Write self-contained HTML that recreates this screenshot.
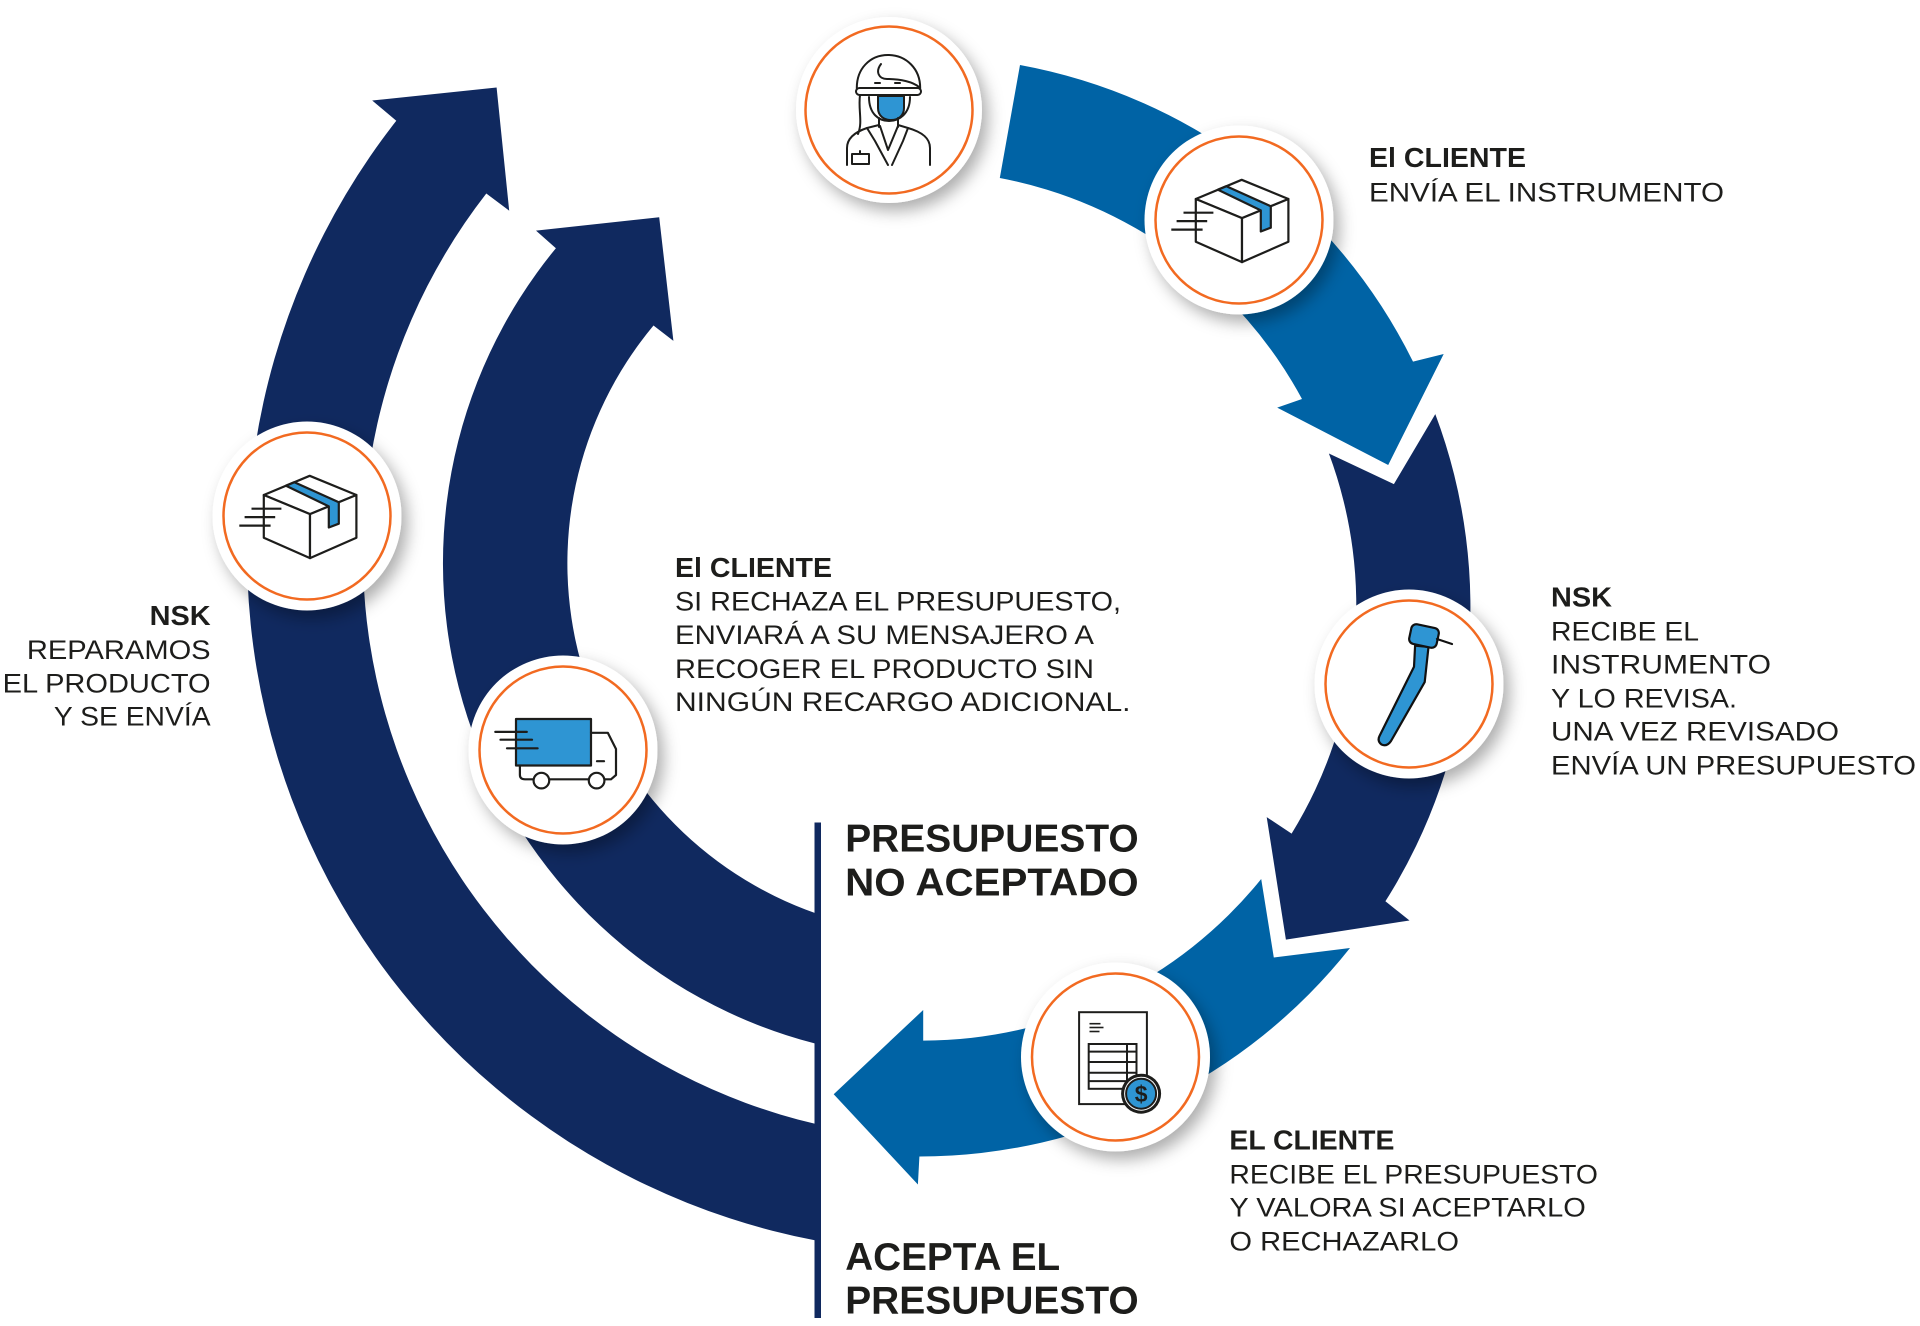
<!DOCTYPE html>
<html><head><meta charset="utf-8"><style>
html,body{margin:0;padding:0;background:#fff;}
svg{display:block;}
text{font-family:"Liberation Sans",Arial,sans-serif;fill:#1d1d1b;}
.b{font-weight:bold;font-size:27.5px;}
.r{font-size:26.5px;}
.h{font-weight:bold;font-size:39px;}
</style></head><body>
<svg width="1920" height="1326" viewBox="0 0 1920 1326" xmlns="http://www.w3.org/2000/svg">
<defs>
<filter id="sh" x="-40%" y="-40%" width="180%" height="180%">
<feDropShadow dx="6" dy="8" stdDeviation="8" flood-color="#000" flood-opacity="0.32"/>
</filter>
</defs>

<!-- left arrows -->
<path fill="#10295f" d="M 816,1240.5 A 700 700 0 0 1 396.3,120.8 L 372.2,100.5 L 496.6,87.5 L 509.2,210.7 L 486.3,193.5 A 586 586 0 0 0 816,1124 Z"/>
<path fill="#10295f" d="M 816,1043.8 A 496 496 0 0 1 555.9,248.2 L 536,230.6 L 659.2,217.2 L 673.4,340.9 L 653.5,325.5 A 371 371 0 0 0 816,913.4 Z"/>

<!-- right ring segments -->
<path fill="#0063a5" d="M 1020,65 A 549 549 0 0 1 1413,361.6 L 1443.7,354 L 1388.2,465 L 1277.2,407.6 L 1302,399 A 435 435 0 0 0 999.8,178 Z"/>
<path fill="#10295f" d="M 1435.3,414.1 L 1393.9,484.1 L 1328.9,453.5 A 435 435 0 0 1 1291.6,833.6 L 1266.7,817.1 L 1285.9,939.6 L 1409.5,920.5 L 1385.4,901.3 A 550 550 0 0 0 1435.3,414.1 Z"/>
<path fill="#0063a5" d="M 1350,948 L 1273.8,957.5 L 1261.2,879 A 435 435 0 0 1 923.2,1040.6 L 923.2,1010 L 833.7,1094.2 L 917.9,1184.5 L 919.4,1156.5 A 550 550 0 0 0 1350,948 Z"/>

<!-- vertical divider -->
<rect x="814.5" y="822.5" width="6.5" height="495.5" fill="#10295f"/>

<!-- circles -->
<g>
<circle cx="889" cy="110" r="93" fill="#fff" filter="url(#sh)"/>
<circle cx="889" cy="110" r="83.5" fill="none" stroke="#f26a21" stroke-width="2.5"/>
<circle cx="1239" cy="220" r="94.5" fill="#fff" filter="url(#sh)"/>
<circle cx="1239" cy="220" r="83.5" fill="none" stroke="#f26a21" stroke-width="2.5"/>
<circle cx="1409" cy="684" r="94.5" fill="#fff" filter="url(#sh)"/>
<circle cx="1409" cy="684" r="83.5" fill="none" stroke="#f26a21" stroke-width="2.5"/>
<circle cx="1115.5" cy="1057" r="94.5" fill="#fff" filter="url(#sh)"/>
<circle cx="1115.5" cy="1057" r="83.5" fill="none" stroke="#f26a21" stroke-width="2.5"/>
<circle cx="563" cy="750" r="94.5" fill="#fff" filter="url(#sh)"/>
<circle cx="563" cy="750" r="83.5" fill="none" stroke="#f26a21" stroke-width="2.5"/>
<circle cx="307" cy="516" r="94.5" fill="#fff" filter="url(#sh)"/>
<circle cx="307" cy="516" r="83.5" fill="none" stroke="#f26a21" stroke-width="2.5"/>
</g>

<!-- person icon -->
<g transform="translate(889,110)" stroke="#1d1d1b" stroke-width="2" fill="none" stroke-linejoin="round" stroke-linecap="round">
<path d="M -32,-18 C -34,-42 -18,-55 -1,-55 C 16,-55 33,-42 31,-18"/>
<path d="M -8,-46 C -14,-38 -10,-31 -2,-31 C 12,-31 24,-28 30,-23"/>
<line x1="-14" y1="-27" x2="-9" y2="-27"/>
<line x1="6" y1="-27" x2="11" y2="-27"/>
<rect x="-33" y="-22" width="65" height="7" rx="3.5" fill="#fff"/>
<path d="M -29,-15 C -31,0 -26,12 -31,24"/>
<path d="M -20,-13 C -20,4 -10,11 0,11 C 10,11 21,4 21,-13"/>
<path d="M -11,-14 L 15,-14 L 15,-2 C 15,6 9,10 2,10 C -5,10 -11,6 -11,-2 Z" fill="#2e95d3"/>
<line x1="-10" y1="8" x2="-10" y2="17"/>
<line x1="9" y1="8" x2="9" y2="17"/>
<path d="M -42,55 L -42,38 C -42,28 -34,22 -22,18 L -10,15"/>
<path d="M 41,55 L 41,38 C 41,28 33,22 19,18 L 9,15"/>
<path d="M -22,18 L -14,31 L -1,55"/>
<path d="M 19,18 L 14,31 L 3,55"/>
<path d="M -9,16 L -1,40 L 9,16"/>
<rect x="-37" y="44" width="17" height="10"/>
<line x1="-29" y1="41" x2="-29" y2="44"/>
</g>

<!-- box icon (top right) -->
<g transform="translate(1239,220)" stroke="#1d1d1b" stroke-width="2.2" stroke-linejoin="round" fill="#fff">
<polygon points="-43.2,-21 2.7,-40.2 49.4,-21 3,-1.9"/>
<polygon points="-43.2,-21 3,-1.9 3,42.1 -43.2,21.8"/>
<polygon points="3,-1.9 49.4,-21 49.4,21.8 3,42.1"/>
<polygon points="-21,-30.3 -12.6,-33.8 31.8,-13.7 31.8,7.7 21.8,11.5 21.8,-9.6" fill="#2e95d3"/>
<line x1="-55.5" y1="-7.3" x2="-25.6" y2="-7.3"/>
<line x1="-62.4" y1="1.1" x2="-31.8" y2="1.1"/>
<line x1="-67.7" y1="9.6" x2="-36.4" y2="9.6"/>
</g>

<!-- box icon (left) -->
<g transform="translate(307,516)" stroke="#1d1d1b" stroke-width="2.2" stroke-linejoin="round" fill="#fff">
<polygon points="-43.2,-21 2.7,-40.2 49.4,-21 3,-1.9"/>
<polygon points="-43.2,-21 3,-1.9 3,42.1 -43.2,21.8"/>
<polygon points="3,-1.9 49.4,-21 49.4,21.8 3,42.1"/>
<polygon points="-21,-30.3 -12.6,-33.8 31.8,-13.7 31.8,7.7 21.8,11.5 21.8,-9.6" fill="#2e95d3"/>
<line x1="-55.5" y1="-7.3" x2="-25.6" y2="-7.3"/>
<line x1="-62.4" y1="1.1" x2="-31.8" y2="1.1"/>
<line x1="-67.7" y1="9.6" x2="-36.4" y2="9.6"/>
</g>

<!-- handpiece icon -->
<g transform="translate(1409,684)" stroke="#111" stroke-width="2.2" stroke-linejoin="round" stroke-linecap="round">
<path d="M 6.1,-38.3 L 19.5,-37.1 L 15.7,-1.9 L -18,57 Q -22,63 -27.5,60.5 Q -32,57 -29.5,52 L 5,-17.2 Z" fill="#2e95d3"/>
<rect x="1" y="-58" width="28" height="20" rx="5" fill="#2e95d3" transform="rotate(12 15 -48)"/>
<line x1="28" y1="-45" x2="43" y2="-40" fill="none"/>
</g>

<!-- invoice icon -->
<g transform="translate(1115.5,1057)" stroke="#1d1d1b" stroke-width="2" fill="#fff">
<rect x="-36.4" y="-44.8" width="67.8" height="91.9"/>
<line x1="-26" y1="-33.3" x2="-15" y2="-33.3" stroke-width="1.6"/>
<line x1="-26" y1="-29.5" x2="-12" y2="-29.5" stroke-width="1.6"/>
<line x1="-26" y1="-25.5" x2="-16" y2="-25.5" stroke-width="1.6"/>
<rect x="-26.8" y="-13" width="47.8" height="44.8"/>
<line x1="-26.8" y1="-5.4" x2="21" y2="-5.4"/>
<line x1="-26.8" y1="5" x2="21" y2="5"/>
<line x1="-26.8" y1="15.7" x2="21" y2="15.7"/>
<line x1="-26.8" y1="24.1" x2="21" y2="24.1"/>
<line x1="11.5" y1="-13" x2="11.5" y2="31.8"/>
<circle cx="25.6" cy="36.7" r="20" fill="#1d1d1b" stroke="none"/>
<circle cx="25.6" cy="36.7" r="17" fill="#fff" stroke="none"/>
<circle cx="25.6" cy="36.7" r="15" fill="#2e95d3" stroke="#1d1d1b" stroke-width="2"/>
<text x="25.6" y="45" text-anchor="middle" stroke="none" style="font-weight:bold;font-size:23px;">$</text>
</g>

<!-- truck icon -->
<g transform="translate(563,750)" stroke="#1d1d1b" stroke-width="2.2" stroke-linejoin="round" stroke-linecap="round" fill="none">
<rect x="-47" y="-31" width="75" height="46.5" fill="#2e95d3"/>
<path d="M 28,-17.2 L 44.8,-17.2 L 53,-1 L 53,25 L 48,29.3 L 41.4,29.3"/>
<path d="M -43.1,15.5 L -43.1,25 Q -43,29.3 -38,29.3 L -29.4,29.3"/>
<line x1="-13.8" y1="29.3" x2="25.8" y2="29.3"/>
<circle cx="-21.6" cy="30.6" r="7.8" fill="#fff"/>
<circle cx="33.6" cy="30.6" r="7.8" fill="#fff"/>
<line x1="34" y1="11.2" x2="41" y2="11.2"/>
<line x1="-67.7" y1="-18.1" x2="-36.2" y2="-18.1"/>
<line x1="-62.5" y1="-10.3" x2="-31" y2="-10.3"/>
<line x1="-56" y1="-1.7" x2="-25.4" y2="-1.7"/>
</g>

<!-- texts -->
<text class="b" x="1369" y="167" textLength="157" lengthAdjust="spacingAndGlyphs">El CLIENTE</text>
<text class="r" x="1369" y="201.5" textLength="355" lengthAdjust="spacingAndGlyphs">ENVÍA EL INSTRUMENTO</text>

<text class="b" x="1551" y="606.7" textLength="61" lengthAdjust="spacingAndGlyphs">NSK</text>
<text class="r" x="1551" y="640.3" textLength="148" lengthAdjust="spacingAndGlyphs">RECIBE EL</text>
<text class="r" x="1551" y="673.6" textLength="220" lengthAdjust="spacingAndGlyphs">INSTRUMENTO</text>
<text class="r" x="1551" y="707.3" textLength="186" lengthAdjust="spacingAndGlyphs">Y LO REVISA.</text>
<text class="r" x="1551" y="740.6" textLength="288" lengthAdjust="spacingAndGlyphs">UNA VEZ REVISADO</text>
<text class="r" x="1551" y="774.3" textLength="365" lengthAdjust="spacingAndGlyphs">ENVÍA UN PRESUPUESTO</text>

<text class="b" x="1229.4" y="1149.6" textLength="165" lengthAdjust="spacingAndGlyphs">EL CLIENTE</text>
<text class="r" x="1229.4" y="1183.3" textLength="368.6" lengthAdjust="spacingAndGlyphs">RECIBE EL PRESUPUESTO</text>
<text class="r" x="1229.4" y="1216.6" textLength="356.4" lengthAdjust="spacingAndGlyphs">Y VALORA SI ACEPTARLO</text>
<text class="r" x="1229.4" y="1250.3" textLength="229.6" lengthAdjust="spacingAndGlyphs">O RECHAZARLO</text>

<text class="b" x="675" y="577" textLength="157" lengthAdjust="spacingAndGlyphs">El CLIENTE</text>
<text class="r" x="675" y="610.7" textLength="446" lengthAdjust="spacingAndGlyphs">SI RECHAZA EL PRESUPUESTO,</text>
<text class="r" x="675" y="644" textLength="419" lengthAdjust="spacingAndGlyphs">ENVIARÁ A SU MENSAJERO A</text>
<text class="r" x="675" y="677.8" textLength="419" lengthAdjust="spacingAndGlyphs">RECOGER EL PRODUCTO SIN</text>
<text class="r" x="675" y="711" textLength="455.5" lengthAdjust="spacingAndGlyphs">NINGÚN RECARGO ADICIONAL.</text>

<text class="b" x="149.6" y="625" textLength="61" lengthAdjust="spacingAndGlyphs">NSK</text>
<text class="r" x="26.9" y="658.8" textLength="183.7" lengthAdjust="spacingAndGlyphs">REPARAMOS</text>
<text class="r" x="2.6" y="692.6" textLength="208" lengthAdjust="spacingAndGlyphs">EL PRODUCTO</text>
<text class="r" x="53.9" y="725.6" textLength="156.7" lengthAdjust="spacingAndGlyphs">Y SE ENVÍA</text>

<text class="h" x="845.2" y="851.5" textLength="293.5" lengthAdjust="spacingAndGlyphs">PRESUPUESTO</text>
<text class="h" x="845.2" y="895.5" textLength="293.5" lengthAdjust="spacingAndGlyphs">NO ACEPTADO</text>
<text class="h" x="845.2" y="1270.2" textLength="215" lengthAdjust="spacingAndGlyphs">ACEPTA EL</text>
<text class="h" x="845.2" y="1313.4" textLength="293.5" lengthAdjust="spacingAndGlyphs">PRESUPUESTO</text>
</svg>
</body></html>
